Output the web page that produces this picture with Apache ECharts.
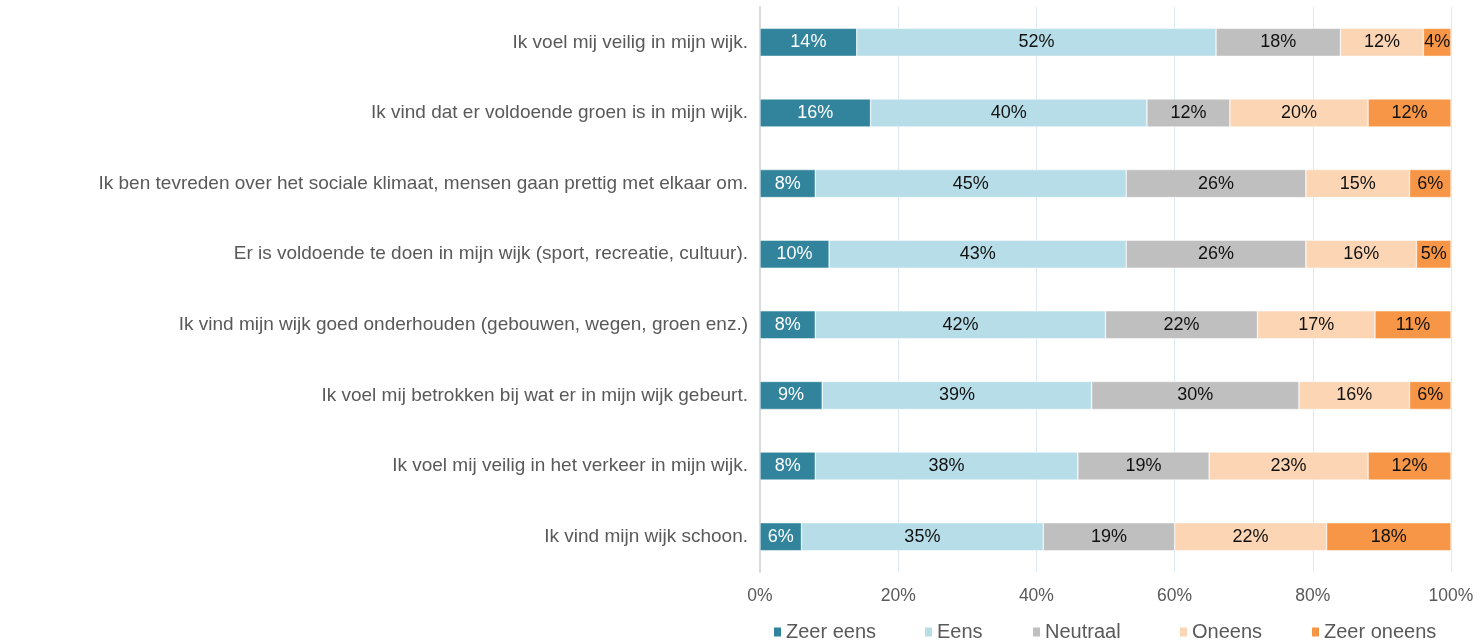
<!DOCTYPE html>
<html><head><meta charset="utf-8">
<script src="https://cdn.jsdelivr.net/npm/echarts@6/dist/echarts.min.js"></script>
<style>html,body{margin:0;padding:0;background:#fff}#c{width:1483px;height:643px}</style>
</head><body><div id="c"></div>
<script>
const categories = [
  "Ik voel mij veilig in mijn wijk.",
  "Ik vind dat er voldoende groen is in mijn wijk.",
  "Ik ben tevreden over het sociale klimaat, mensen gaan prettig met elkaar om.",
  "Er is voldoende te doen in mijn wijk (sport, recreatie, cultuur).",
  "Ik vind mijn wijk goed onderhouden (gebouwen, wegen, groen enz.)",
  "Ik voel mij betrokken bij wat er in mijn wijk gebeurt.",
  "Ik voel mij veilig in het verkeer in mijn wijk.",
  "Ik vind mijn wijk schoon."
];
const seriesNames = ["Zeer eens", "Eens", "Neutraal", "Oneens", "Zeer oneens"];
const zeerEens   = [14, 16, 8, 10, 8, 9, 8, 6];
const eens       = [52, 40, 45, 43, 42, 39, 38, 35];
const neutraal   = [18, 12, 26, 26, 22, 30, 19, 19];
const oneens     = [12, 20, 15, 16, 17, 16, 23, 22];
const zeerOneens = [4, 12, 6, 5, 11, 6, 12, 18];
const xTicks = [0, 20, 40, 60, 80, 100];

const values = [zeerEens, eens, neutraal, oneens, zeerOneens];
const colors = ["#31849B", "#B7DEE8", "#BFBFBF", "#FCD5B5", "#F79646"];
const labelColors = ["#ffffff", "#111111", "#111111", "#111111", "#111111"];
const legendLeft = [772, 923, 1031, 1178, 1310];
const FONT = "'Liberation Sans', Arial, sans-serif";

const chart = echarts.init(document.getElementById('c'), null, {renderer: 'canvas'});
chart.setOption({
  animation: false,
  textStyle: {fontFamily: FONT},
  grid: {left: 760, right: 32, top: 7, bottom: 71, containLabel: false},
  legend: seriesNames.map((n, i) => ({
    top: 622, left: legendLeft[i], padding: 0,
    itemWidth: 9, itemHeight: 11, itemGap: 0, icon: 'rect',
    textStyle: {fontFamily: FONT, fontSize: 20, color: '#595959', padding: [0,0,0,-1]},
    data: [n]
  })),
  xAxis: {
    type: 'value', min: xTicks[0], max: xTicks[xTicks.length-1], interval: 20,
    axisLine: {show: false}, axisTick: {show: false},
    splitLine: {show: true, lineStyle: {color: '#DCE9F2', width: 1}},
    axisLabel: {formatter: v => v + '%', color: '#595959', fontSize: 17.5, fontFamily: FONT, margin: 15}
  },
  yAxis: {
    type: 'category', data: categories, inverse: true,
    axisLine: {show: true, lineStyle: {color: '#D9D9D9', width: 2}},
    axisTick: {show: false},
    axisLabel: {color: '#595959', fontSize: 19, fontFamily: FONT, margin: 12}
  },
  series: values.map((arr, i) => ({
    name: seriesNames[i], type: 'bar', stack: 'total', barWidth: 28,
    data: arr,
    itemStyle: {color: colors[i], borderColor: '#ffffff', borderWidth: 0.5},
    label: {show: true, position: 'inside', formatter: p => p.value + '%',
      color: labelColors[i], fontSize: 18, fontFamily: FONT}
  }))
});
</script></body></html>
